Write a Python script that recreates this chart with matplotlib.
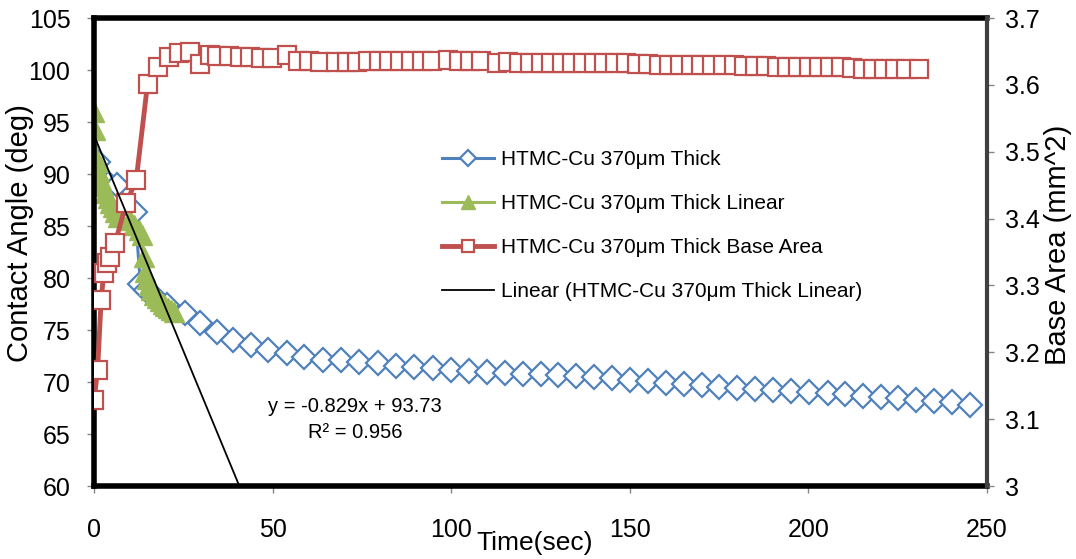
import matplotlib
matplotlib.use("Agg")
import matplotlib.pyplot as plt

plt.rcParams['font.family'] = ['Liberation Sans', 'DejaVu Sans']

# contact angle (deg), left axis
thick_t = [1.0, 2.0, 4.0, 6.5, 11.5, 13.0, 14.5, 17.0, 20.5, 25.6, 29.6, 34.3, 39.0, 44.0,
           48.8, 53.9, 58.9, 64.0, 69.1, 74.2, 79.5, 84.5, 89.6, 94.9, 100.0, 105.0, 110.0,
           115.0, 120.0, 125.0, 130.0, 135.0, 140.1, 144.9, 150.1, 155.1, 160.0, 165.1,
           170.1, 175.0, 179.9, 185.1, 190.2, 195.2, 200.3, 205.4, 210.3, 215.2, 220.2,
           225.1, 230.1, 235.1, 240.3, 245.3]
thick_v = [91.2, 89.8, 89.0, 88.9, 86.3, 79.4, 78.8, 78.2, 77.4, 76.6, 75.7, 74.8, 74.0, 73.6,
           73.1, 72.8, 72.4, 72.1, 72.1, 71.9, 71.8, 71.5, 71.4, 71.3, 71.2, 71.1, 71.0,
           70.9, 70.8, 70.8, 70.7, 70.6, 70.45, 70.36, 70.19, 70.10, 69.93, 69.81,
           69.71, 69.55, 69.45, 69.33, 69.23, 69.13, 69.01, 68.91, 68.82, 68.65, 68.53,
           68.43, 68.27, 68.17, 68.05, 67.79]

linear_t = [0.0, 0.4, 1.0, 1.5, 2.0, 2.6, 3.2, 3.8, 4.5, 5.2, 6.0, 6.8, 10.0, 11.3, 12.5,
            13.4, 14.0, 14.3, 14.7, 15.3, 16.0, 16.8, 17.6, 18.4, 19.2, 20.0, 20.8, 21.6, 22.5]
linear_v = [96.0, 94.2, 91.2, 90.2, 89.4, 88.8, 88.2, 87.7, 87.2, 86.8, 86.3, 85.9, 85.6, 85.1, 84.6,
            84.1, 82.0, 80.6, 79.9, 79.3, 78.8, 78.4, 78.1, 77.8, 77.5, 77.3, 77.1, 76.9, 76.7]

# base area (mm^2), right axis
area_t = [0, 1.0, 2.0, 2.7, 3.6, 4.5, 5.9, 9.0, 11.8, 15.0, 18.0, 21.0, 23.8, 26.8, 29.8, 32.5,
          34.5, 37.7, 40.8, 43.8, 46.8, 49.7, 53.9, 57.2, 60.2, 63.3, 67.7, 70.7, 73.6, 76.6,
          79.7, 82.7, 85.8, 88.8, 91.8, 94.7, 99.1, 102.2, 105.3, 108.4, 112.8, 115.9, 118.9,
          122.0, 125.0, 127.9, 130.9, 133.9, 137.0, 140.0, 142.9, 145.9, 148.9, 152.0, 155.0,
          158.1, 161.0, 164.0, 167.0, 170.0, 173.0, 176.0, 179.1, 182.1, 185.0, 188.1, 191.1,
          194.1, 197.1, 200.1, 203.1, 206.1, 209.1, 212.1, 215.2, 218.2, 221.2, 224.2, 227.2, 231.1]
area_v = [3.128, 3.173, 3.278, 3.318, 3.333, 3.342, 3.363, 3.423, 3.457, 3.602, 3.626, 3.641,
          3.647, 3.649, 3.631, 3.644, 3.643, 3.643, 3.642, 3.641, 3.640, 3.640, 3.645, 3.635,
          3.635, 3.634, 3.634, 3.634, 3.634, 3.635, 3.635, 3.635, 3.635, 3.635, 3.636, 3.636,
          3.637, 3.636, 3.635, 3.635, 3.633, 3.634, 3.633, 3.633, 3.633, 3.633, 3.633, 3.632,
          3.632, 3.632, 3.632, 3.633, 3.632, 3.631, 3.631, 3.630, 3.630, 3.630, 3.630, 3.629,
          3.629, 3.629, 3.630, 3.628, 3.628, 3.628, 3.627, 3.627, 3.627, 3.627, 3.626, 3.626,
          3.626, 3.625, 3.624, 3.624, 3.623, 3.623, 3.623, 3.623]

slope, icpt = -0.829, 93.73
fit_x = [0, (60 - icpt) / slope]

fig = plt.figure(figsize=(10.76, 5.59), dpi=100)
ax = fig.add_axes([94/1076, 1-486/559, 893/1076, 468/559])
ax2 = ax.twinx()

l1, = ax.plot(thick_t, thick_v, color='#4F81BD', lw=2.2, marker='D', ms=12,
              mfc='white', mec='#4F81BD', mew=1.6, label='HTMC-Cu 370μm Thick')
l2, = ax.plot(linear_t, linear_v, color='#9BBB59', lw=2.2, marker='^', ms=15,
              mfc='#9BBB59', mec='#9BBB59', label='HTMC-Cu 370μm Thick Linear')
l3, = ax2.plot(area_t, area_v, color='#C0504D', lw=3.5, marker='s', ms=13,
               mfc='white', mec='#C0504D', mew=1.6, label='HTMC-Cu 370μm Thick Base Area')
l4, = ax2.plot(fit_x, [slope*x + icpt for x in fit_x], color='black', lw=1.3,
               transform=ax.transData, label='Linear (HTMC-Cu 370μm Thick Linear)')

ax.set_xlim(0, 250)
ax.set_ylim(60, 105)
ax2.set_ylim(3, 3.7)
ax.set_xticks(range(0, 251, 50))
ax.set_yticks(range(60, 106, 5))
ax2.set_yticks([3, 3.1, 3.2, 3.3, 3.4, 3.5, 3.6, 3.7])
ax2.set_yticklabels(['3', '3.1', '3.2', '3.3', '3.4', '3.5', '3.6', '3.7'])

for s in ['left', 'top', 'bottom']:
    ax.spines[s].set_linewidth(4)
    ax.spines[s].set_color('black')
    ax2.spines[s].set_visible(False)
ax.spines['right'].set_visible(False)
ax2.spines['right'].set_linewidth(3)
ax2.spines['right'].set_color('#404040')

ax.tick_params(axis='y', length=5, width=1, color='#868686', labelsize=18, pad=12)
ax.tick_params(axis='x', length=5, width=1, color='#868686', labelsize=18, pad=18)
ax2.tick_params(axis='y', length=5, width=1, color='#868686', labelsize=18, pad=8)

fig.text(20/1076, 1-233/559, 'Contact Angle (deg)', rotation=90, ha='center', va='center', fontsize=21)
fig.text(1058/1076, 1-245/559, 'Base Area (mm^2)', rotation=90, ha='center', va='center', fontsize=21)
fig.text(535/1076, 1-543/559, 'Time(sec)', ha='center', va='center', fontsize=19)

fig.text(355/1076, 1-407/559, 'y = -0.829x + 93.73', ha='center', va='center', fontsize=14.5)
fig.text(355/1076, 1-432/559, 'R² = 0.956', ha='center', va='center', fontsize=14.5)

fig.legend(handles=[l1, l2, l3, l4], loc='upper left', bbox_to_anchor=(442/1076, 1-150/559),
           frameon=False, fontsize=15, borderpad=0, borderaxespad=0, handlelength=2.5,
           handletextpad=0.35, labelspacing=1.2, markerscale=0.7)

fig.savefig('out.png', dpi=100)
